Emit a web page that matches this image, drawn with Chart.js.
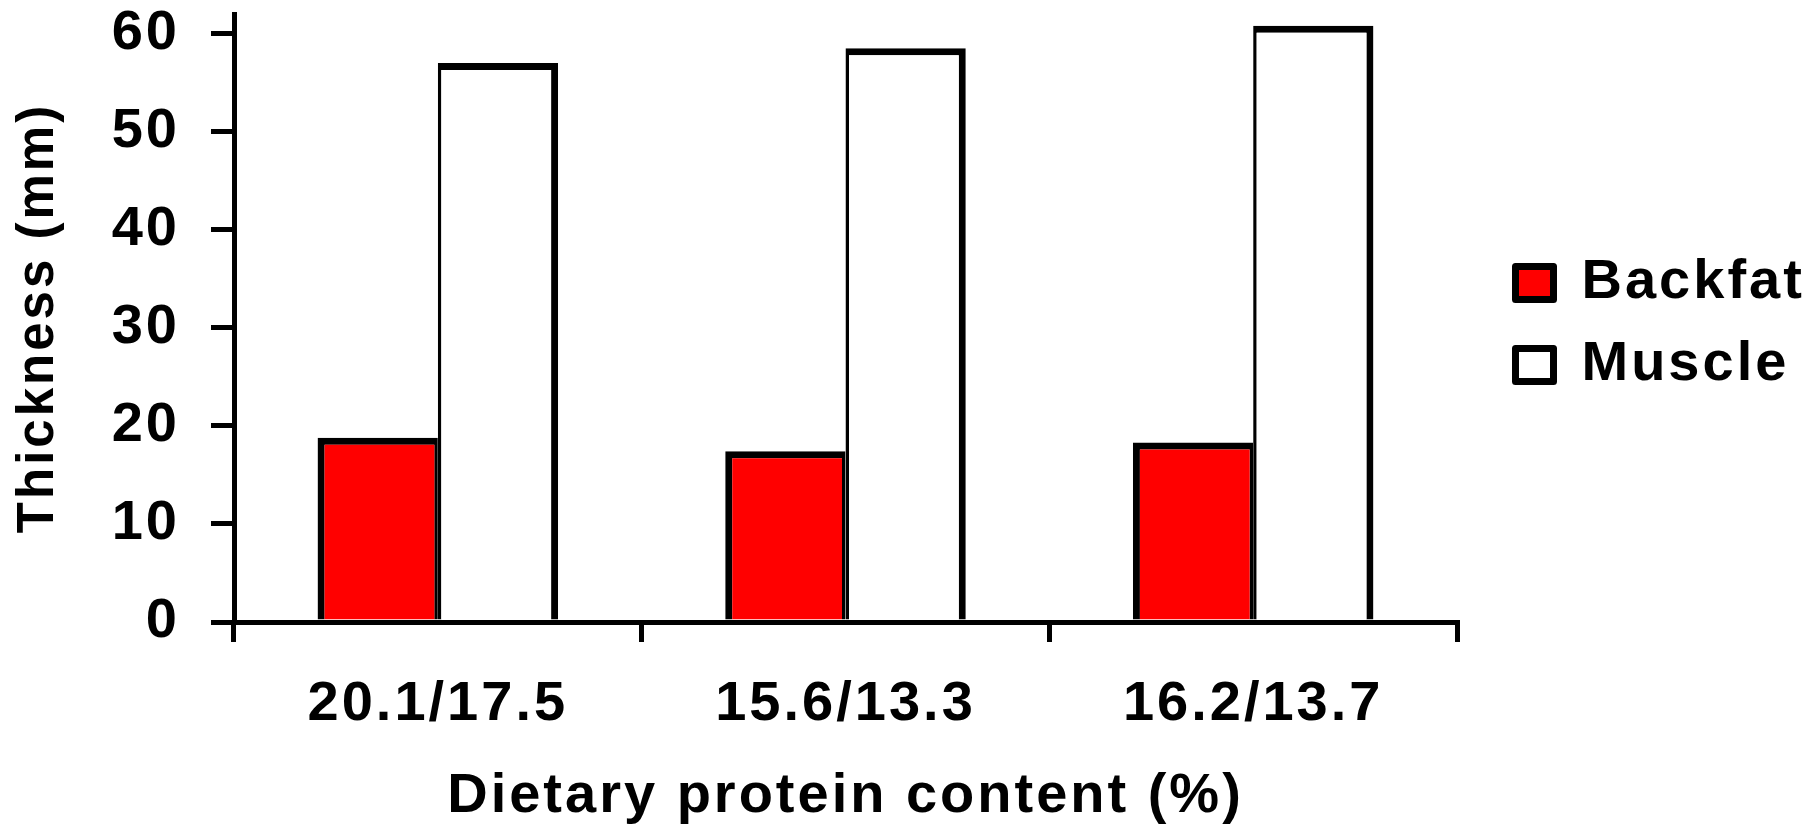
<!DOCTYPE html>
<html>
<head>
<meta charset="utf-8">
<title>Backfat and muscle thickness</title>
<script src="https://cdn.jsdelivr.net/npm/chart.js@4/dist/chart.umd.min.js"></script>
<style>
  html, body { margin: 0; padding: 0; background: #ffffff; }
  canvas { display: block; }
</style>
</head>
<body>
<canvas id="chart" width="1812" height="825"></canvas>
<script>
// Dietary protein levels (grower/finisher, %)
const categories = ['20.1/17.5', '15.6/13.3', '16.2/13.7'];
// Thickness in mm
const backfat = [18.8, 17.4, 18.3];
const muscle = [57.0, 58.5, 60.8];
const yTicks = [0, 10, 20, 30, 40, 50, 60];
const yMax = 62;
const seriesNames = ['Backfat', 'Muscle'];
const xTitle = 'Dietary protein content (%)';
const yTitle = 'Thickness (mm)';

const FONT = "'Liberation Sans', Arial, Helvetica, sans-serif";
const INK = '#000000';
const AXIS_W = 5;
const EDGE = 7;
const TRACKING = '3px';

const boldFont = (size, lineHeight) => ({ family: FONT, size, weight: 'bold', lineHeight: lineHeight || 1.2 });

// widen the lettering slightly for all canvas text
const tracking = {
  id: 'tracking',
  beforeUpdate: (chart) => { chart.ctx.letterSpacing = TRACKING; },
  beforeDraw: (chart) => { chart.ctx.letterSpacing = TRACKING; }
};

new Chart(document.getElementById('chart'), {
  type: 'bar',
  plugins: [tracking],
  data: {
    labels: categories,
    datasets: [
      {
        label: seriesNames[0],
        data: backfat,
        backgroundColor: '#ff0000',
        borderColor: INK,
        // shared edge with the neighbouring bar is split between the two
        borderWidth: { top: EDGE, left: EDGE, right: EDGE / 2, bottom: 0 }
      },
      {
        label: seriesNames[1],
        data: muscle,
        backgroundColor: '#ffffff',
        borderColor: INK,
        borderWidth: { top: EDGE, left: EDGE / 2, right: EDGE, bottom: 0 }
      }
    ]
  },
  options: {
    responsive: false,
    animation: false,
    devicePixelRatio: 1,
    layout: { padding: { left: 0, top: 14, right: 2.5, bottom: 0 } },
    datasets: { bar: { categoryPercentage: 0.59, barPercentage: 1.0 } },
    plugins: {
      tooltip: { enabled: false },
      legend: {
        position: 'right',
        align: 'center',
        fullSize: false,
        maxWidth: 320,
        // empty title only nudges the entries down a little
        title: { display: true, text: '', padding: 0, font: { size: 10, lineHeight: 1.2 } },
        labels: {
          color: INK,
          boxWidth: 38,
          boxHeight: 33,
          padding: 26,
          font: boldFont(56),
          generateLabels: (chart) =>
            Chart.defaults.plugins.legend.labels.generateLabels(chart).map(item => ({
              ...item,
              lineWidth: EDGE,
              lineJoin: 'round',
              strokeStyle: INK
            }))
        }
      }
    },
    scales: {
      x: {
        z: 1,
        afterFit: (axis) => { axis.height = 203; axis.paddingLeft = 0; axis.paddingRight = 0; },
        grid: { offset: true, drawOnChartArea: false, color: INK, lineWidth: AXIS_W, tickLength: 20 },
        border: { display: true, color: INK, width: AXIS_W },
        ticks: { color: INK, padding: 29, maxRotation: 0, autoSkip: false, font: boldFont(56) },
        title: { display: true, text: xTitle, color: INK, padding: 0, font: boldFont(56, 1) }
      },
      y: {
        z: 1,
        min: 0,
        max: yMax,
        afterBuildTicks: (axis) => { axis.ticks = yTicks.map(v => ({ value: v })); },
        afterFit: (axis) => { axis.width = 234; axis.paddingTop = 0; axis.paddingBottom = 0; },
        grid: { drawOnChartArea: false, color: INK, lineWidth: AXIS_W, tickLength: 23 },
        border: { display: true, color: INK, width: AXIS_W },
        ticks: { color: INK, padding: 31, font: boldFont(56) },
        title: { display: true, text: yTitle, color: INK, padding: { top: 13, bottom: 0 }, font: boldFont(51, 1) }
      },
      // empty spacer between the plot and the legend
      gap: {
        type: 'linear',
        position: 'right',
        display: true,
        grid: { display: false },
        border: { display: false },
        ticks: { display: false },
        afterFit: (axis) => { axis.width = 32.5; axis.paddingTop = 0; axis.paddingBottom = 0; }
      }
    }
  }
});
</script>
</body>
</html>
